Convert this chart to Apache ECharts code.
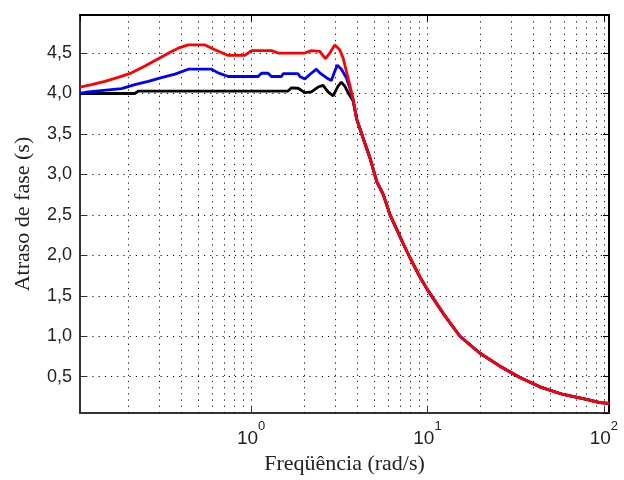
<!DOCTYPE html>
<html>
<head>
<meta charset="utf-8">
<script src="https://cdn.jsdelivr.net/npm/echarts@6/dist/echarts.min.js"></script>
<style>html,body{margin:0;padding:0;background:#fff}#c{width:624px;height:480px}</style>
</head>
<body>
<div id="c"></div>
<script>
// ---- data ----
const xTitle = 'Freqüência (rad/s)';
const yTitle = 'Atraso de fase (s)';
const xMin = 0.107, xMax = 107;
const yMin = 0.05, yMax = 4.97;
const minorGrid = [0.2,0.3,0.4,0.5,0.6,0.7,0.8,0.9,2,3,4,5,6,7,8,9,20,30,40,50,60,70,80,90];

const blackFreq = [0.107, 0.219, 0.229, 1.621, 1.692, 1.846, 2.015, 2.196, 2.396, 2.558, 2.731, 2.915, 3.111, 3.248, 3.395, 3.545, 3.784];
const blackDelay = [4.00, 4.00, 4.03, 4.03, 4.07, 4.065, 4.01, 4.02, 4.08, 4.10, 4.02, 3.97, 4.09, 4.14, 4.09, 4.01, 3.91];

const blueFreq = [0.107, 0.119, 0.184, 0.219, 0.261, 0.310, 0.370, 0.440, 0.596, 0.650, 0.741, 1.096, 1.144, 1.248, 1.303, 1.485, 1.518, 1.846, 1.888, 2.015, 2.151, 2.344, 2.450, 2.671, 2.851, 2.980, 3.083, 3.248, 3.467, 3.624, 3.784];
const blueDelay = [4.00, 4.02, 4.06, 4.11, 4.15, 4.195, 4.24, 4.30, 4.30, 4.255, 4.21, 4.21, 4.25, 4.25, 4.21, 4.21, 4.245, 4.245, 4.21, 4.18, 4.235, 4.30, 4.255, 4.195, 4.16, 4.275, 4.35, 4.30, 4.195, 4.07, 3.93];

const redFreq = [0.107, 0.1245, 0.148, 0.176, 0.210, 0.250, 0.297, 0.354, 0.386, 0.440, 0.547, 0.623, 0.741, 0.921, 1.004, 1.303, 1.422, 2.015, 2.196, 2.450, 2.636, 2.792, 2.980, 3.181, 3.321, 3.467, 3.624, 3.784];
const redDelay = [4.08, 4.11, 4.15, 4.20, 4.255, 4.34, 4.43, 4.52, 4.56, 4.60, 4.60, 4.54, 4.47, 4.47, 4.53, 4.53, 4.50, 4.50, 4.53, 4.52, 4.43, 4.50, 4.60, 4.54, 4.44, 4.275, 4.11, 3.93];

// common high-frequency part shared by the three curves
const tailFreq = [3.971, 4.328, 4.723, 5.155, 5.617, 6.132, 6.692, 7.294, 7.959, 9.068, 10.03, 12.29, 15.28, 19.84, 25.76, 33.43, 43.40, 58.81, 79.80, 94.91, 107];
const tailDelay = [3.68, 3.44, 3.20, 2.91, 2.75, 2.50, 2.32, 2.14, 1.97, 1.73, 1.57, 1.28, 1.00, 0.79, 0.63, 0.49, 0.375, 0.28, 0.22, 0.18, 0.17];

function pairs(f, v) {
  const all = f.concat(tailFreq), vals = v.concat(tailDelay);
  return all.map((x, i) => [x, vals[i]]);
}

const chart = echarts.init(document.getElementById('c'), null, {renderer: 'canvas'});
const dotted = {color: '#111', width: 1, type: [1.2, 5]};
const supLabel = v => {
  const e = Math.round(Math.log10(v));
  return '{b|10}{s|' + e + '}';
};
const option = {
  animation: false,
  backgroundColor: '#fff',
  grid: {left: 80, top: 15, right: 15, bottom: 64, containLabel: false},
  xAxis: [{
    type: 'log', logBase: 10, min: xMin, max: xMax,
    name: xTitle, nameLocation: 'middle', nameGap: 36,
    nameTextStyle: {fontFamily: 'Liberation Serif', fontSize: 22, color: '#222'},
    axisLine: {show: true, onZero: false, lineStyle: {color: '#333', width: 2}},
    axisTick: {show: true, inside: true, length: 6, lineStyle: {color: '#333', width: 1}},
    axisLabel: {show: true, showMinLabel: false, showMaxLabel: false, margin: 7,
      formatter: supLabel,
      rich: {
        b: {fontFamily: 'Liberation Sans', fontSize: 19, color: '#222', lineHeight: 28, verticalAlign: 'bottom'},
        s: {fontFamily: 'Liberation Sans', fontSize: 13, color: '#222', lineHeight: 14, verticalAlign: 'top'}
      }},
    splitLine: {show: true, lineStyle: dotted}
  }, {
    type: 'log', logBase: 10, min: xMin, max: xMax, position: 'top',
    axisLine: {show: true, onZero: false, lineStyle: {color: '#000', width: 2}},
    axisTick: {show: true, inside: true, length: 6, lineStyle: {color: '#000', width: 1}},
    axisLabel: {show: false}, splitLine: {show: false}
  }],
  yAxis: [{
    type: 'value', min: yMin, max: yMax, splitNumber: 10,
    name: yTitle, nameLocation: 'middle', nameGap: 46,
    nameTextStyle: {fontFamily: 'Liberation Serif', fontSize: 22, color: '#222'},
    axisLine: {show: true, onZero: false, lineStyle: {color: '#333', width: 2}},
    axisTick: {show: true, inside: true, length: 6, lineStyle: {color: '#333', width: 1}},
    axisLabel: {show: true, showMinLabel: false, showMaxLabel: false, margin: 8,
      fontFamily: 'Liberation Sans', fontSize: 18, color: '#222',
      formatter: v => v.toFixed(1).replace('.', ',')},
    splitLine: {show: true, lineStyle: dotted}
  }, {
    type: 'value', min: yMin, max: yMax, splitNumber: 10, position: 'right',
    axisLine: {show: true, onZero: false, lineStyle: {color: '#000', width: 2}},
    axisTick: {show: true, inside: true, length: 6, lineStyle: {color: '#000', width: 1}},
    axisLabel: {show: false}, splitLine: {show: false}
  }],
  series: [
    {type: 'line', data: [], z: 1, silent: true,
     markLine: {silent: true, symbol: 'none', label: {show: false},
       lineStyle: dotted, animation: false,
       data: minorGrid.map(v => ({xAxis: v}))}},
    {type: 'line', data: pairs(blackFreq, blackDelay), showSymbol: false, symbol: 'none',
     lineStyle: {color: '#000', width: 2.8}, z: 3},
    {type: 'line', data: pairs(blueFreq, blueDelay), showSymbol: false, symbol: 'none',
     lineStyle: {color: '#0000ff', width: 2.8}, z: 4},
    {type: 'line', data: pairs(redFreq, redDelay), showSymbol: false, symbol: 'none',
     lineStyle: {color: '#ff0000', width: 2.8}, z: 5}
  ]
};
chart.setOption(option);
</script>
</body>
</html>
